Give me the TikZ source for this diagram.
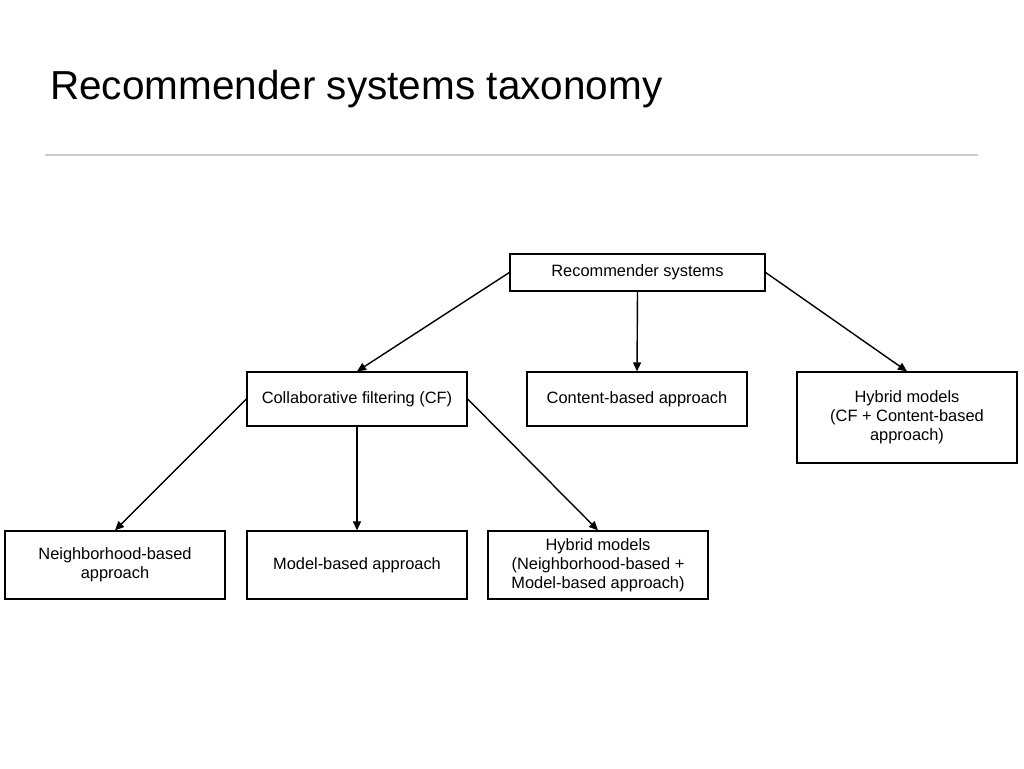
\documentclass[tikz,border=0pt]{standalone}
\usepackage{fontspec}
\setmainfont{Liberation Sans}
\usetikzlibrary{arrows.meta,positioning}

\begin{document}
\begin{tikzpicture}[x=1pt,y=-1pt,>={Triangle[length=9pt,width=8pt]},
  box/.style={draw,line width=1.3pt,inner sep=0pt,align=center,font=\fontsize{16.4}{19}\selectfont},
  wide/.style={box,minimum width=220pt,minimum height=54pt},
  link/.style={->,line width=1.4pt}]
\useasboundingbox (0,0) rectangle (1024,768);
\node[anchor=base west,inner sep=0pt,font=\fontsize{40.5}{48}\selectfont] (title) at (50,99) {Recommender systems taxonomy};
\draw[black!20,line width=1.5pt] (45,155) -- (978,155);

\node[box,minimum width=255pt,minimum height=37pt] (rs) at (637.5,272.5) {Recommender systems};
\node[wide] (cf) at (357,399) {Collaborative filtering (CF)};
\node[wide] (cb) at (637,399) {Content-based approach};
\node[box,minimum width=220pt,minimum height=91pt] (hy) at (907,417.5) {Hybrid models\\(CF + Content-based\\approach)};

\node[box,minimum width=220pt,minimum height=68pt] (nb) at (115,565) {Neighborhood-based\\approach};
\node[box,minimum width=220pt,minimum height=68pt] (mb) at (357,565) {Model-based approach};
\node[box,minimum width=220pt,minimum height=68pt] (hn) at (598,565) {Hybrid models\\(Neighborhood-based +\\Model-based approach)};

\draw[link] (rs.west) -- (cf.north);
\draw[link] (rs.south) -- (cb.north);
\draw[link] (rs.east) -- (hy.north);
\draw[link] (cf.west) -- (nb.north);
\draw[link] (cf.south) -- (mb.north);
\draw[link] (cf.east) -- (hn.north);
\end{tikzpicture}
\end{document}
